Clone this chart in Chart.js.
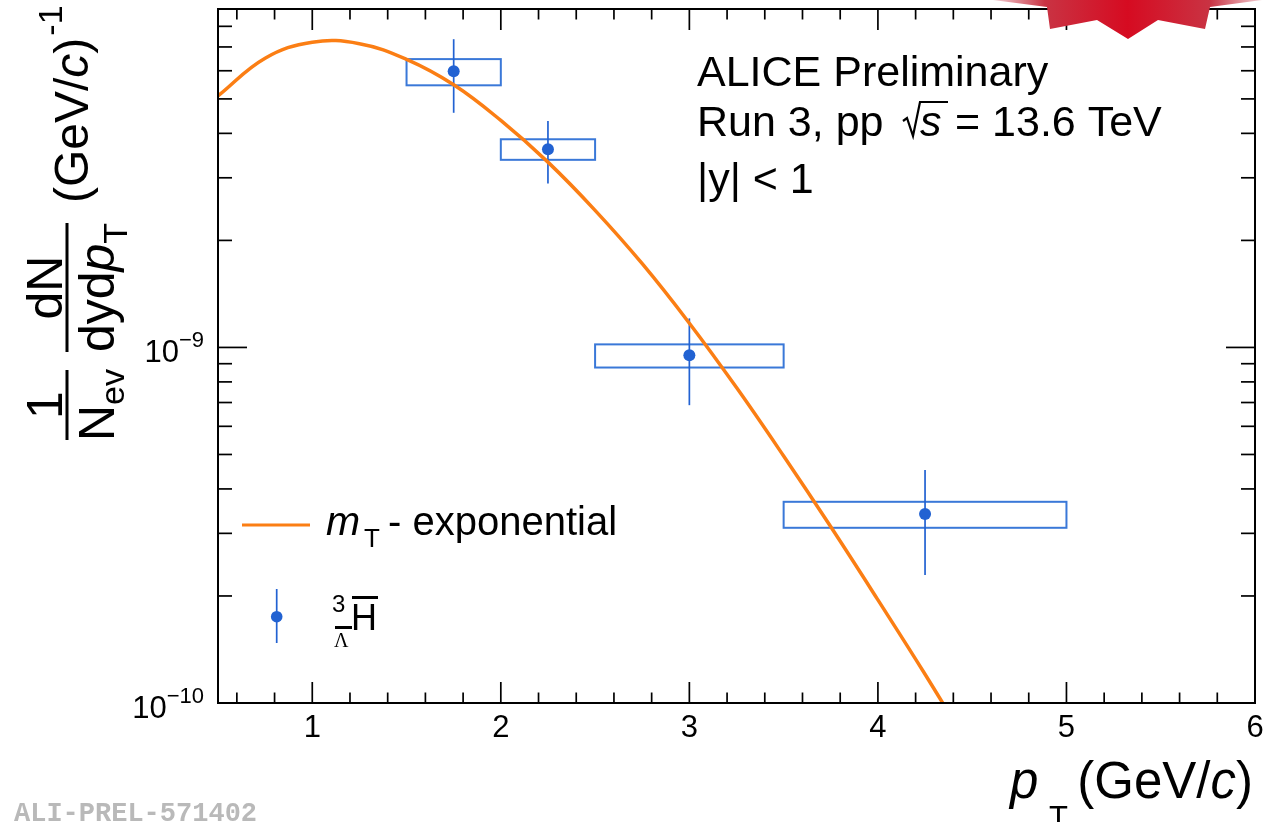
<!DOCTYPE html>
<html>
<head>
<meta charset="utf-8">
<script src="https://cdn.jsdelivr.net/npm/chart.js@4.4.0/dist/chart.umd.min.js"></script>
<style>
html,body{margin:0;padding:0;background:#fff;overflow:hidden}
#wrap{position:relative;width:1271px;height:822px}
#c{position:absolute;left:0;top:0}
#logo{position:absolute;left:0;top:0}
</style>
</head>
<body>
<div id="wrap">
<canvas id="c" width="1271" height="822"></canvas>
<svg id="logo" width="1271" height="50" viewBox="0 0 1271 50">
<defs>
<linearGradient id="lg" gradientUnits="userSpaceOnUse" x1="990" y1="0" x2="1265" y2="0">
<stop offset="0" stop-color="#f5d9dd"/>
<stop offset="0.2" stop-color="#c93343"/>
<stop offset="0.5" stop-color="#d60b21"/>
<stop offset="0.8" stop-color="#c93343"/>
<stop offset="1" stop-color="#f5d9dd"/>
</linearGradient>
</defs>
<polygon points="993,0 1262,0 1210,7 1205,29 1158,20 1128,39 1097,20 1050,29 1047,7" fill="url(#lg)"/>
</svg>
</div>
<script>
// ---------------- data ----------------
const ptCenter = [1.75, 2.25, 3.0, 4.25];
const binLow   = [1.5, 2.0, 2.5, 3.5];
const binHigh  = [2.0, 2.5, 3.5, 5.0];
const yieldVal = [5.98e-9, 3.61e-9, 9.5e-10, 3.40e-10];
const statLow  = [4.57e-9, 2.89e-9, 6.88e-10, 2.29e-10];
const statHigh = [7.36e-9, 4.33e-9, 1.207e-9, 4.52e-10];
const systLow  = [5.46e-9, 3.37e-9, 8.78e-10, 3.11e-10];
const systHigh = [6.47e-9, 3.85e-9, 1.02e-9, 3.68e-10];

// mT-exponential curve
const curvePt = [0.5, 0.75, 1.0, 1.25, 1.5, 1.75, 2.0, 2.25, 2.5, 2.75, 3.0, 3.25, 3.5, 3.75, 4.0, 4.25, 4.5];
const curveY  = [5.10e-9, 6.51e-9, 7.22e-9, 7.15e-9, 6.46e-9, 5.48e-9, 4.35e-9, 3.32e-9, 2.43e-9, 1.72e-9, 1.17e-9, 7.71e-10, 4.95e-10, 3.13e-10, 1.95e-10, 1.205e-10, 0.73e-10];

// axes
const xMin = 0.5, xMax = 6;
const yMin = 1e-10, yMax = 8.95e-9;
const xMajorTicks = [1, 2, 3, 4, 5, 6];
const xTickLabels = ['1', '2', '3', '4', '5', '6'];
const xMinorTicks = [0.6, 0.8, 1.2, 1.4, 1.6, 1.8, 2.2, 2.4, 2.6, 2.8, 3.2, 3.4, 3.6, 3.8, 4.2, 4.4, 4.6, 4.8, 5.2, 5.4, 5.6, 5.8];
const yMajorTicks = [1e-10, 1e-9];
const yTickBase = ['10', '10'];
const yTickExp = ['\u221210', '\u22129'];
const yMinorTicks = [2e-10, 3e-10, 4e-10, 5e-10, 6e-10, 7e-10, 8e-10, 9e-10, 2e-9, 3e-9, 4e-9, 5e-9, 6e-9, 7e-9, 8e-9];

const ORANGE = '#fb7e14';
const BLUE = '#2262d2';
const BOXBLUE = '#3a78d8';
const FF = '"Liberation Sans", Arial, sans-serif';

function f(size, style) { return (style ? style + ' ' : '') + size + 'px ' + FF; }

const custom = {
  id: 'custom',
  beforeDatasetsDraw(chart) {
    const {ctx, chartArea: a, scales: {x, y}} = chart;
    ctx.save();
    ctx.beginPath();
    ctx.rect(a.left, a.top, a.right - a.left, a.bottom - a.top);
    ctx.clip();
    for (let i = 0; i < ptCenter.length; i++) {
      const x0 = x.getPixelForValue(binLow[i]);
      const x1 = x.getPixelForValue(binHigh[i]);
      const y0 = y.getPixelForValue(systHigh[i]);
      const y1 = y.getPixelForValue(systLow[i]);
      ctx.strokeStyle = BOXBLUE;
      ctx.lineWidth = 2;
      ctx.strokeRect(x0, y0, x1 - x0, y1 - y0);
      const xc = x.getPixelForValue(ptCenter[i]);
      ctx.strokeStyle = BLUE;
      ctx.lineWidth = 1.7;
      ctx.beginPath();
      ctx.moveTo(xc, y.getPixelForValue(statHigh[i]));
      ctx.lineTo(xc, y.getPixelForValue(statLow[i]));
      ctx.stroke();
    }
    ctx.restore();
  },
  afterDraw(chart) {
    const {ctx, chartArea: a, scales: {x, y}} = chart;
    const L = a.left, R = a.right, T = a.top, B = a.bottom;
    ctx.save();
    // ticks
    ctx.strokeStyle = '#000';
    ctx.lineWidth = 1.7;
    const line = (x0, y0, x1, y1) => { ctx.beginPath(); ctx.moveTo(x0, y0); ctx.lineTo(x1, y1); ctx.stroke(); };
    xMajorTicks.forEach(v => { const p = x.getPixelForValue(v); line(p, B, p, B - 21); line(p, T, p, T + 21); });
    xMinorTicks.forEach(v => { const p = x.getPixelForValue(v); line(p, B, p, B - 10.5); line(p, T, p, T + 10.5); });
    yMajorTicks.forEach(v => { const p = y.getPixelForValue(v); line(L, p, L + 29, p); line(R, p, R - 29, p); });
    yMinorTicks.forEach(v => { const p = y.getPixelForValue(v); line(L, p, L + 14, p); line(R, p, R - 14, p); });
    // frame
    ctx.lineWidth = 2;
    ctx.strokeRect(L, T, R - L, B - T);

    ctx.fillStyle = '#000';
    ctx.textBaseline = 'alphabetic';
    // x tick labels
    ctx.font = f(31);
    ctx.textAlign = 'center';
    xMajorTicks.forEach((v, i) => ctx.fillText(xTickLabels[i], x.getPixelForValue(v), 737));
    // y tick labels
    ctx.textAlign = 'left';
    yMajorTicks.forEach((v, i) => {
      const p = y.getPixelForValue(v);
      ctx.font = f(22);
      const we = ctx.measureText(yTickExp[i]).width;
      ctx.font = f(31);
      const wb = ctx.measureText(yTickBase[i]).width;
      const right = 204;
      ctx.font = f(31);
      ctx.fillText(yTickBase[i], right - we - wb, p + 15);
      ctx.font = f(22);
      ctx.fillText(yTickExp[i], right - we, p - 0.5);
    });

    // x axis title
    ctx.font = f(51, 'italic');
    ctx.fillText('p', 1010, 798);
    ctx.font = f(31);
    ctx.fillText('T', 1049, 828);
    const parts = [['(GeV/', ''], ['c', 'italic'], [')', '']];
    let tot = 0;
    parts.forEach(p => { ctx.font = f(51, p[1]); tot += ctx.measureText(p[0]).width; });
    let xx = 1253 - tot;
    parts.forEach(p => { ctx.font = f(51, p[1]); ctx.fillText(p[0], xx, 798); xx += ctx.measureText(p[0]).width; });

    // y axis title (rotated)
    ctx.save();
    ctx.translate(0, 822);
    ctx.rotate(-Math.PI / 2);
    ctx.textAlign = 'left';
    // 1 / N_ev
    ctx.font = f(50);
    let w1 = ctx.measureText('1').width;
    ctx.fillText('1', 417 - w1 / 2, 62);
    ctx.font = f(50); const wN = ctx.measureText('N').width;
    ctx.font = f(34); const wev = ctx.measureText('ev').width;
    let u0 = 417 - (wN + wev) / 2;
    ctx.font = f(50); ctx.fillText('N', u0, 114);
    ctx.font = f(34); ctx.fillText('ev', u0 + wN, 124);
    ctx.fillRect(382, 65.5, 70, 3);
    // dN / dydp_T
    ctx.font = f(50);
    const wdN = ctx.measureText('dN').width;
    ctx.fillText('dN', 534.5 - wdN / 2, 62);
    const wd = ctx.measureText('dyd').width;
    ctx.font = f(50, 'italic'); const wp = ctx.measureText('p').width;
    ctx.font = f(34); const wT = ctx.measureText('T').width;
    u0 = 534.5 - (wd + wp + wT) / 2;
    ctx.font = f(50); ctx.fillText('dyd', u0, 114);
    ctx.font = f(50, 'italic'); ctx.fillText('p', u0 + wd, 114);
    ctx.font = f(34); ctx.fillText('T', u0 + wd + wp, 127);
    ctx.fillRect(470, 65.5, 129, 3);
    // (GeV/c)^-1
    let uu = 619;
    [['(GeV/', ''], ['c', 'italic'], [')', '']].forEach(p => {
      ctx.font = f(48, p[1]); ctx.fillText(p[0], uu, 88); uu += ctx.measureText(p[0]).width;
    });
    ctx.font = f(34);
    ctx.fillText('-1', uu + 2, 62);
    ctx.restore();

    // annotation text
    ctx.textAlign = 'left';
    ctx.font = f(43);
    ctx.fillText('ALICE Preliminary', 697, 86);
    ctx.fillText('Run 3, pp', 697, 136);
    // sqrt(s)
    ctx.lineWidth = 2.2;
    ctx.beginPath();
    ctx.moveTo(903, 121); ctx.lineTo(907, 118); ctx.lineTo(913, 136); ctx.lineTo(920, 102); ctx.lineTo(948, 102);
    ctx.stroke();
    ctx.font = f(43, 'italic');
    ctx.fillText('s', 920, 136);
    ctx.font = f(43);
    ctx.fillText('= 13.6 TeV', 955, 136);
    ctx.fillText('|y| < 1', 697, 193);

    // legend
    ctx.strokeStyle = ORANGE;
    ctx.lineWidth = 3.2;
    line(242, 525, 310, 525);
    ctx.fillStyle = '#000';
    ctx.font = f(41, 'italic');
    ctx.fillText('m', 326, 535);
    ctx.font = f(26);
    ctx.fillText('T', 364, 547);
    ctx.font = f(40);
    ctx.fillText('- exponential', 388, 535);
    // marker legend
    ctx.strokeStyle = BLUE;
    ctx.lineWidth = 1.7;
    line(276.7, 589, 276.7, 643);
    ctx.fillStyle = BLUE;
    ctx.beginPath(); ctx.arc(276.7, 616.7, 5.8, 0, Math.PI * 2); ctx.fill();
    ctx.fillStyle = '#000';
    ctx.font = f(24);
    ctx.fillText('3', 332, 612);
    ctx.font = f(36);
    ctx.fillText('H', 351, 630);
    ctx.fillRect(352, 596, 26, 3);
    ctx.font = '20px "Liberation Serif", "DejaVu Serif", serif';
    ctx.fillText('\u039B', 334, 647);
    ctx.fillRect(335, 626, 17, 3);

    // watermark
    ctx.fillStyle = '#b9b9b9';
    ctx.font = 'bold 27px "Liberation Mono", "Courier New", monospace';
    ctx.fillText('ALI-PREL-571402', 14, 821);
    ctx.restore();
  }
};

const curveData = curvePt.map((v, i) => ({x: v, y: curveY[i]}));
const pointData = ptCenter.map((v, i) => ({x: v, y: yieldVal[i]}));

new Chart(document.getElementById('c'), {
  type: 'scatter',
  data: {
    datasets: [
      {
        type: 'line',
        label: 'mT - exponential',
        data: curveData,
        borderColor: ORANGE,
        borderWidth: 3.5,
        pointRadius: 0,
        fill: false,
        tension: 0.4,
        clip: 0,
        order: 2
      },
      {
        type: 'scatter',
        label: 'anti-hypertriton',
        data: pointData,
        backgroundColor: BLUE,
        borderColor: BLUE,
        borderWidth: 0,
        pointRadius: 6,
        clip: 0,
        order: 1
      }
    ]
  },
  options: {
    responsive: false,
    animation: false,
    events: [],
    devicePixelRatio: 1,
    layout: {padding: {left: 0, right: 16, top: 9, bottom: 0}},
    plugins: {legend: {display: false}, tooltip: {enabled: false}, title: {display: false}},
    scales: {
      x: {
        type: 'linear', min: xMin, max: xMax,
        grid: {display: false}, border: {display: false},
        ticks: {display: false},
        afterFit(s) { s.height = 119; }
      },
      y: {
        type: 'logarithmic', min: yMin, max: yMax,
        grid: {display: false}, border: {display: false},
        ticks: {display: false},
        afterFit(s) { s.width = 218; }
      }
    }
  },
  plugins: [custom]
});
</script>
</body>
</html>
